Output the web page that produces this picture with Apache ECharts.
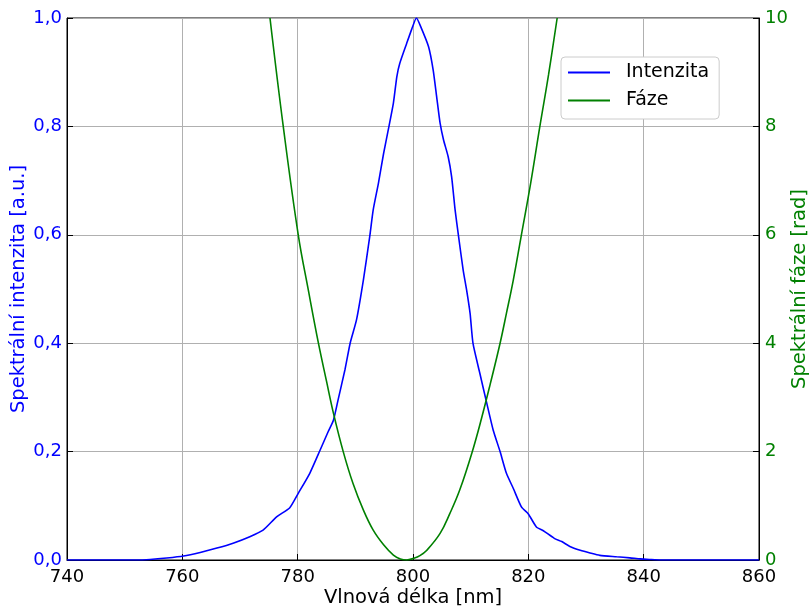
<!DOCTYPE html>
<html><head><meta charset="utf-8">
<script src="https://cdn.jsdelivr.net/npm/echarts@6/dist/echarts.min.js"></script>
<style>html,body{margin:0;padding:0;background:#fff}#c{width:811px;height:607px}</style>
</head><body><div id="c"></div>
<script>
const intWl  = [740, 750, 752, 754.4, 757.3, 760.2, 763.1, 766.0, 768.8, 771.7, 774.0, 776.4, 778.6, 780.1, 782.1, 783.9, 785.3, 786.2, 787.0, 788.2, 789.1, 790.2, 791.4, 792.5, 793.1, 794.0, 794.9, 795.7, 796.6, 797.2, 797.7, 798.9, 799.8, 800.6, 801.3, 802.7, 803.5, 804.1, 804.7, 805.3, 806.1, 806.7, 807.3, 807.9, 808.7, 809.3, 809.9, 810.4, 811.6, 812.8, 813.9, 815.1, 816.2, 817.4, 818.8, 820.0, 821.4, 822.6, 824.5, 825.8, 827.2, 829.0, 830.7, 832.4, 835.3, 837.6, 839.4, 841.0, 843.0, 860];
const intVal = [0, 0, 0, 0.001, 0.0037, 0.0074, 0.014, 0.022, 0.031, 0.043, 0.055, 0.080, 0.096, 0.123, 0.160, 0.203, 0.237, 0.258, 0.295, 0.351, 0.400, 0.443, 0.517, 0.597, 0.646, 0.695, 0.750, 0.793, 0.843, 0.892, 0.916, 0.953, 0.980, 1.0, 0.985, 0.947, 0.904, 0.855, 0.806, 0.775, 0.744, 0.707, 0.646, 0.597, 0.535, 0.498, 0.455, 0.400, 0.344, 0.289, 0.240, 0.200, 0.160, 0.132, 0.098, 0.085, 0.061, 0.054, 0.040, 0.034, 0.025, 0.018, 0.013, 0.0086, 0.006, 0.004, 0.002, 0.001, 0, 0];
const phWl  = [775.2, 777.5, 780.1, 781.9, 783.6, 785.0, 786.2, 787.9, 789.6, 791.4, 793.1, 794.9, 796.6, 797.8, 798.9, 800.1, 801.2, 802.4, 804.7, 806.4, 808.1, 810.2, 811.9, 813.4, 815.1, 816.2, 817.4, 818.8, 820.4, 822.0, 823.5, 825.0];
const phVal = [10, 8.0, 6.0, 4.95, 4.0, 3.3, 2.71, 2.0, 1.41, 0.92, 0.55, 0.28, 0.09, 0.02, 0.0, 0.03, 0.08, 0.18, 0.49, 0.86, 1.29, 1.97, 2.62, 3.25, 4.0, 4.55, 5.17, 6.0, 6.95, 8.0, 8.95, 10];
const xTicks = [740, 760, 780, 800, 820, 840, 860];

const FONT = 'DejaVu Sans';
const BLUE = '#0000ff', GREEN = '#008000';
const chart = echarts.init(document.getElementById('c'), null, {renderer: 'canvas'});
chart.setOption({
  animation: false,
  backgroundColor: '#fff',
  textStyle: {fontFamily: FONT},
  grid: {left: 67, right: 52, top: 18, bottom: 47, containLabel: false, outerBoundsMode: 'none',
         show: true, borderColor: '#000', borderWidth: 1, backgroundColor: 'transparent'},
  legend: {
    left: 561, top: 57, orient: 'vertical',
    itemWidth: 42, itemHeight: 20, itemGap: 9,
    padding: [6, 10, 9, 6],
    borderColor: '#cccccc', borderWidth: 1, borderRadius: 4, backgroundColor: '#fff',
    itemStyle: {opacity: 0},
    textStyle: {fontFamily: FONT, fontSize: 19, color: '#000', padding: [0, 0, 0, 11]},
    data: [{name: 'Intenzita'}, {name: 'Fáze'}]
  },
  xAxis: {
    type: 'value', min: xTicks[0], max: xTicks[xTicks.length - 1], interval: 20,
    name: 'Vlnová délka [nm]', nameLocation: 'middle', nameGap: 28, nameMoveOverlap: false,
    nameTextStyle: {fontFamily: FONT, fontSize: 19.5, color: '#000'},
    axisLine: {show: true, lineStyle: {color: '#000', width: 1}},
    axisTick: {show: true, inside: true, length: 6, lineStyle: {color: '#000', width: 1}},
    axisLabel: {fontFamily: FONT, fontSize: 18, color: '#000', margin: 8},
    splitLine: {show: true, lineStyle: {color: '#b0b0b0', width: 1}}
  },
  yAxis: [{
    type: 'value', min: 0, max: 1, interval: 0.2, position: 'left',
    name: 'Spektrální intenzita [a.u.]', nameLocation: 'middle', nameGap: 38, nameMoveOverlap: false,
    nameTextStyle: {fontFamily: FONT, fontSize: 19.5, color: BLUE},
    axisLine: {show: true, lineStyle: {color: '#000', width: 1}},
    axisTick: {show: true, inside: true, length: 6, lineStyle: {color: '#000', width: 1}},
    axisLabel: {fontFamily: FONT, fontSize: 18, color: BLUE, margin: 5,
      formatter: v => v.toFixed(1).replace('.', ',')},
    splitLine: {show: true, lineStyle: {color: '#b0b0b0', width: 1}}
  }, {
    type: 'value', min: 0, max: 10, interval: 2, position: 'right',
    name: 'Spektrální fáze [rad]', nameLocation: 'middle', nameGap: 31, nameMoveOverlap: false,
    nameTextStyle: {fontFamily: FONT, fontSize: 19.5, color: GREEN},
    axisLine: {show: true, lineStyle: {color: '#000', width: 1}},
    axisTick: {show: true, inside: true, length: 6, lineStyle: {color: '#000', width: 1}},
    axisLabel: {fontFamily: FONT, fontSize: 18, color: GREEN, margin: 6},
    splitLine: {show: false}
  }],
  series: [{
    name: 'Intenzita', type: 'line', yAxisIndex: 0, symbol: 'none', smooth: 0.2,
    lineStyle: {color: BLUE, width: 1.6}, itemStyle: {color: BLUE},
    data: intWl.map((w, i) => [w, intVal[i]])
  }, {
    name: 'Fáze', type: 'line', yAxisIndex: 1, symbol: 'none', smooth: 0.4,
    lineStyle: {color: GREEN, width: 1.6}, itemStyle: {color: GREEN},
    data: phWl.map((w, i) => [w, phVal[i]])
  }]
});
</script></body></html>
